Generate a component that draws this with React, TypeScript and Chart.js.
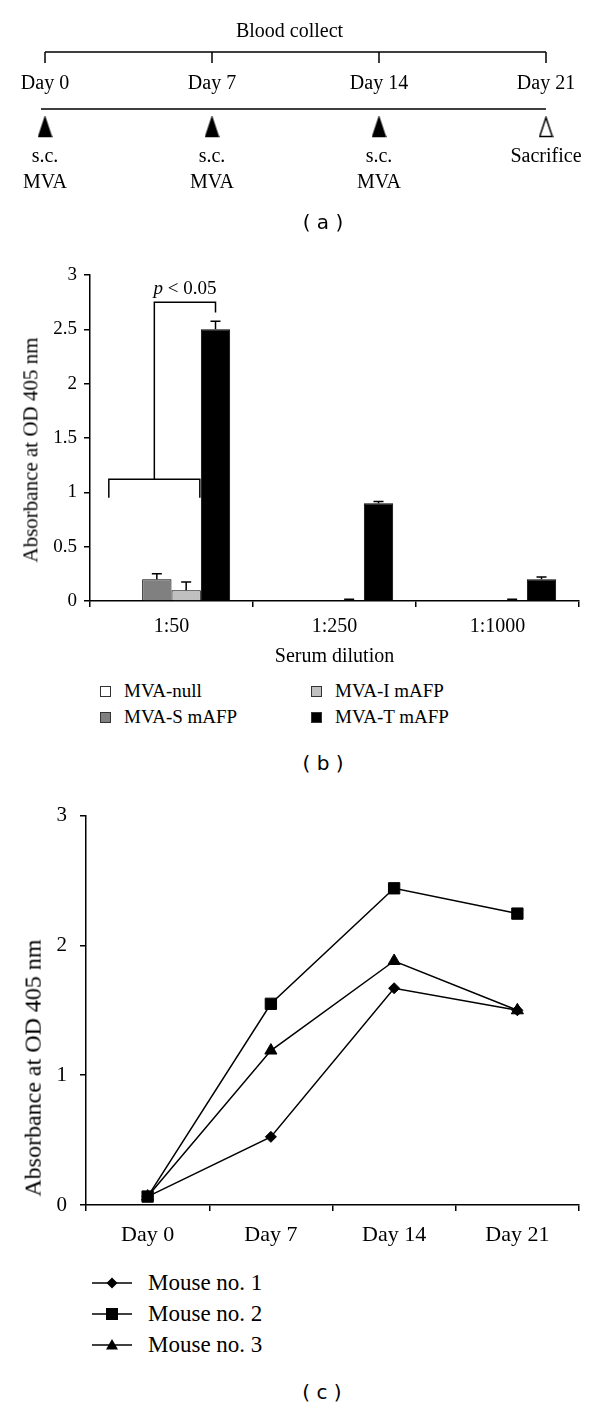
import React, { useEffect, useRef } from "react";
import { Chart, registerables } from "chart.js";

Chart.register(...registerables);

const SERIF = '"Liberation Serif", "Times New Roman", serif';
const SANS = '"DejaVu Sans", "Liberation Sans", sans-serif';

// ---------- Panel (a): schedule ----------
const timelineDays = [0, 7, 14, 21];
const timelineDayLabels = ["Day 0", "Day 7", "Day 14", "Day 21"];
const injectionDays = [0, 7, 14];
const sacrificeDays = [21];
const injectionLines = ["s.c.", "MVA"];
const sacrificeLabel = "Sacrifice";
const bloodCollectLabel = "Blood collect";

// ---------- Panel (b): ELISA by serum dilution ----------
const dilutions = ["1:50", "1:250", "1:1000"];
const groupNames = ["MVA-null", "MVA-S mAFP", "MVA-I mAFP", "MVA-T mAFP"];
const mvaNull = [0, 0, 0];
const mvaS = [0.2, 0, 0];
const mvaI = [0.1, 0.005, 0.005];
const mvaT = [2.5, 0.9, 0.2];
const mvaNullErr = [0, 0, 0];
const mvaSErr = [0.05, 0, 0];
const mvaIErr = [0.075, 0.01, 0.01];
const mvaTErr = [0.075, 0.015, 0.02];
const groupColors = ["#ffffff", "#808080", "#c0c0c0", "#000000"];
const barYTicks = [0, 0.5, 1, 1.5, 2, 2.5, 3];
const sigLow = 1.12;
const sigLowLeg = 0.95;
const sigHigh = 2.75;
const sigHighLeg = 2.655;
const sigText = 2.87;

// ---------- Panel (c): time course ----------
const days = ["Day 0", "Day 7", "Day 14", "Day 21"];
const mouse1 = [0.065, 0.525, 1.67, 1.5];
const mouse2 = [0.065, 1.55, 2.44, 2.245];
const mouse3 = [0.065, 1.19, 1.88, 1.5];
const mouseNames = ["Mouse no. 1", "Mouse no. 2", "Mouse no. 3"];
const mouseMarkers = ["rectRot", "rect", "triangle"];
const mouseRadii = [5.5, 8, 7];
const lineYTicks = [0, 1, 2, 3];

function makeTriangle(filled: boolean) {
  const c = document.createElement("canvas");
  c.width = 15;
  c.height = 22;
  const g = c.getContext("2d")!;
  g.beginPath();
  g.moveTo(7.5, 1.5);
  g.lineTo(13.8, 20.5);
  g.lineTo(1.2, 20.5);
  g.closePath();
  g.fillStyle = filled ? "#000" : "#fff";
  g.fill();
  g.lineWidth = 1.5;
  g.strokeStyle = "#000";
  g.stroke();
  return c;
}

function TimelineChart() {
  const ref = useRef<HTMLCanvasElement>(null);
  useEffect(() => {
    const annot = {
      id: "timelineAnnot",
      afterDatasetsDraw(chart: any) {
        const ctx = chart.ctx;
        const xs = chart.scales.x;
        const px = (d: number) => xs.getPixelForValue(d);
        const first = timelineDays[0];
        const last = timelineDays[timelineDays.length - 1];
        ctx.save();
        ctx.strokeStyle = "#000";
        ctx.lineWidth = 1.5;
        ctx.beginPath();
        ctx.moveTo(px(first), 52);
        ctx.lineTo(px(last), 52);
        timelineDays.forEach((d) => {
          ctx.moveTo(px(d), 52);
          ctx.lineTo(px(d), 63);
        });
        ctx.stroke();
        ctx.beginPath();
        ctx.moveTo(px(first) - 4, 109);
        ctx.lineTo(px(last), 109);
        ctx.stroke();
        ctx.fillStyle = "#000";
        ctx.font = `20px ${SERIF}`;
        ctx.textAlign = "center";
        ctx.textBaseline = "middle";
        ctx.fillText(bloodCollectLabel, (px(first) + px(last)) / 2 - 6, 32);
        timelineDays.forEach((d, i) => ctx.fillText(timelineDayLabels[i], px(d), 84));
        injectionDays.forEach((d) => {
          ctx.fillText(injectionLines[0], px(d), 157);
          ctx.fillText(injectionLines[1], px(d), 183);
        });
        sacrificeDays.forEach((d) => ctx.fillText(sacrificeLabel, px(d), 157));
        ctx.restore();
      },
    };
    const chart = new Chart(ref.current!, {
      type: "scatter",
      data: {
        datasets: [
          {
            label: "s.c. MVA",
            data: injectionDays.map((d) => ({ x: d, y: 0 })),
            pointStyle: makeTriangle(true) as any,
            clip: false as any,
          },
          {
            label: "Sacrifice",
            data: sacrificeDays.map((d) => ({ x: d, y: 0 })),
            pointStyle: makeTriangle(false) as any,
            clip: false as any,
          },
        ],
      },
      options: {
        animation: false,
        responsive: false,
        devicePixelRatio: 1,
        events: [],
        layout: { padding: { left: 45, right: 54, top: 117, bottom: 103 } },
        plugins: { legend: { display: false }, tooltip: { enabled: false } },
        scales: {
          x: { type: "linear", min: 0, max: 21, display: false },
          y: { min: -1, max: 1, display: false },
        },
      },
      plugins: [annot],
    });
    return () => chart.destroy();
  }, []);
  return (
    <canvas
      ref={ref}
      width={600}
      height={240}
      style={{ position: "absolute", left: 0, top: 0, width: 600, height: 240 }}
    />
  );
}

function BarPanel() {
  const ref = useRef<HTMLCanvasElement>(null);
  useEffect(() => {
    const values = [mvaNull, mvaS, mvaI, mvaT];
    const errs = [mvaNullErr, mvaSErr, mvaIErr, mvaTErr];
    const extras = {
      id: "barExtras",
      afterDatasetsDraw(chart: any) {
        const ctx = chart.ctx;
        const y = chart.scales.y;
        ctx.save();
        ctx.strokeStyle = "#000";
        ctx.lineWidth = 1.5;
        errs.forEach((arr, di) => {
          const meta = chart.getDatasetMeta(di);
          arr.forEach((e, j) => {
            if (!e) return;
            const bar = meta.data[j];
            const v = values[di][j];
            const y0 = y.getPixelForValue(v);
            const y1 = y.getPixelForValue(v + e);
            ctx.beginPath();
            ctx.moveTo(bar.x, y0);
            ctx.lineTo(bar.x, y1);
            ctx.moveTo(bar.x - 5, y1);
            ctx.lineTo(bar.x + 5, y1);
            ctx.stroke();
          });
        });
        // significance bracket
        const b0 = chart.getDatasetMeta(0).data[0];
        const b2 = chart.getDatasetMeta(2).data[0];
        const b3 = chart.getDatasetMeta(3).data[0];
        const xL = b0.x - b0.width / 2 - 4;
        const xR = b2.x + b2.width / 2 - 1;
        const xM = (xL + xR) / 2;
        const yLow = y.getPixelForValue(sigLow);
        const yLowLeg = y.getPixelForValue(sigLowLeg);
        const yHigh = y.getPixelForValue(sigHigh);
        const yHighLeg = y.getPixelForValue(sigHighLeg);
        ctx.beginPath();
        ctx.moveTo(xL, yLowLeg);
        ctx.lineTo(xL, yLow);
        ctx.lineTo(xR, yLow);
        ctx.lineTo(xR, yLowLeg);
        ctx.moveTo(xM, yLow);
        ctx.lineTo(xM, yHigh);
        ctx.lineTo(b3.x, yHigh);
        ctx.lineTo(b3.x, yHighLeg);
        ctx.stroke();
        const cx = (xM + b3.x) / 2;
        const ty = y.getPixelForValue(sigText);
        ctx.fillStyle = "#000";
        ctx.textBaseline = "middle";
        ctx.textAlign = "left";
        ctx.font = `italic 19px ${SERIF}`;
        const wp = ctx.measureText("p").width;
        ctx.font = `19px ${SERIF}`;
        const rest = " < 0.05";
        const wr = ctx.measureText(rest).width;
        const sx = cx - (wp + wr) / 2;
        ctx.font = `italic 19px ${SERIF}`;
        ctx.fillText("p", sx, ty);
        ctx.font = `19px ${SERIF}`;
        ctx.fillText(rest, sx + wp, ty);
        ctx.restore();
      },
    };
    const chart = new Chart(ref.current!, {
      type: "bar",
      data: {
        labels: dilutions,
        datasets: groupNames.map((n, i) => ({
          label: n,
          data: values[i],
          backgroundColor: groupColors[i],
          borderColor: "#000",
          borderWidth: 1,
          categoryPercentage: 0.72,
          barPercentage: 1,
        })),
      },
      options: {
        animation: false,
        responsive: false,
        devicePixelRatio: 1,
        events: [],
        layout: { padding: { left: 0, right: 21, top: 35, bottom: 0 } },
        plugins: { legend: { display: false }, tooltip: { enabled: false } },
        scales: {
          x: {
            grid: {
              offset: true,
              drawOnChartArea: false,
              drawTicks: true,
              tickLength: 6,
              color: "#000",
              lineWidth: 1.5,
            },
            border: { color: "#000", width: 1.5 },
            ticks: {
              color: "#000",
              font: { family: SERIF, size: 20 },
              padding: 8,
              maxRotation: 0,
            },
            title: {
              display: true,
              text: "Serum dilution",
              color: "#000",
              font: { family: SERIF, size: 20 },
              padding: { top: 0, bottom: 11 },
            },
            afterFit: (s: any) => {
              s.height = 79;
            },
          },
          y: {
            min: 0,
            max: 3,
            afterBuildTicks: (s: any) => {
              s.ticks = barYTicks.map((v) => ({ value: v }));
            },
            grid: {
              drawOnChartArea: false,
              drawTicks: true,
              tickLength: 6,
              color: "#000",
              lineWidth: 1.5,
            },
            border: { color: "#000", width: 1.5 },
            ticks: {
              color: "#000",
              font: { family: SERIF, size: 19 },
              padding: 7,
              callback: (v: any) => String(v),
            },
            afterFit: (s: any) => {
              s.width = 90;
            },
          },
        },
      },
      plugins: [extras],
    });
    return () => chart.destroy();
  }, []);
  return (
    <canvas
      ref={ref}
      width={600}
      height={440}
      style={{ position: "absolute", left: 0, top: 240, width: 600, height: 440 }}
    />
  );
}

function LinePanel() {
  const ref = useRef<HTMLCanvasElement>(null);
  useEffect(() => {
    const series = [mouse1, mouse2, mouse3];
    const chart = new Chart(ref.current!, {
      type: "line",
      data: {
        labels: days,
        datasets: series.map((d, i) => ({
          label: mouseNames[i],
          data: d,
          borderColor: "#000",
          borderWidth: 1.5,
          pointStyle: mouseMarkers[i] as any,
          pointRadius: mouseRadii[i],
          pointBackgroundColor: "#000",
          pointBorderColor: "#000",
          pointBorderWidth: 1,
          tension: 0,
          fill: false,
        })),
      },
      options: {
        animation: false,
        responsive: false,
        devicePixelRatio: 1,
        events: [],
        layout: { padding: { left: 0, right: 21, top: 20, bottom: 0 } },
        plugins: { legend: { display: false }, tooltip: { enabled: false } },
        scales: {
          x: {
            offset: true,
            grid: {
              offset: true,
              drawOnChartArea: false,
              drawTicks: true,
              tickLength: 6,
              color: "#000",
              lineWidth: 1.5,
            },
            border: { color: "#000", width: 1.5 },
            ticks: {
              color: "#000",
              font: { family: SERIF, size: 22 },
              padding: 11,
              maxRotation: 0,
            },
            afterFit: (s: any) => {
              s.height = 55;
            },
          },
          y: {
            min: 0,
            max: 3,
            afterBuildTicks: (s: any) => {
              s.ticks = lineYTicks.map((v) => ({ value: v }));
            },
            grid: {
              drawOnChartArea: false,
              drawTicks: true,
              tickLength: 6,
              color: "#000",
              lineWidth: 1.5,
            },
            border: { color: "#000", width: 1.5 },
            ticks: {
              color: "#000",
              font: { family: SERIF, size: 21 },
              padding: 13,
              callback: (v: any) => String(v),
            },
            afterFit: (s: any) => {
              s.width = 86;
            },
          },
        },
      },
    });
    return () => chart.destroy();
  }, []);
  return (
    <canvas
      ref={ref}
      width={600}
      height={470}
      style={{ position: "absolute", left: 0, top: 790, width: 600, height: 470 }}
    />
  );
}

function Txt(props: {
  x: number;
  y: number;
  size: number;
  family?: string;
  center?: boolean;
  children: React.ReactNode;
}) {
  const { x, y, size, family = SERIF, center = false, children } = props;
  return (
    <div
      style={{
        position: "absolute",
        left: x,
        top: y - size * 0.6,
        fontSize: size,
        lineHeight: `${size * 1.2}px`,
        fontFamily: family,
        whiteSpace: "nowrap",
        transform: center ? "translateX(-50%)" : undefined,
        color: "#000",
      }}
    >
      {children}
    </div>
  );
}

function VTitle(props: { x: number; y: number; size: number; text: string }) {
  return (
    <div
      style={{
        position: "absolute",
        left: props.x,
        top: props.y,
        fontSize: props.size,
        lineHeight: `${props.size * 1.2}px`,
        fontFamily: SERIF,
        whiteSpace: "nowrap",
        transform: "translate(-50%, -50%) rotate(-90deg)",
        color: "#000",
      }}
    >
      {props.text}
    </div>
  );
}

function MarkerSample({ kind }: { kind: string }) {
  let shape: React.ReactNode = null;
  if (kind === "rectRot") shape = <polygon points="20,1.5 25.5,7 20,12.5 14.5,7" fill="#000" />;
  else if (kind === "rect") shape = <rect x={14} y={1} width={12} height={12} fill="#000" />;
  else shape = <polygon points="20,1 26,11.5 14,11.5" fill="#000" />;
  return (
    <svg width={40} height={14} style={{ position: "absolute", left: 0, top: -7 }}>
      <line x1={0} y1={7} x2={40} y2={7} stroke="#000" strokeWidth={1.5} />
      {shape}
    </svg>
  );
}

const barLegendPos = [
  { x: 100, y: 691 },
  { x: 100, y: 717 },
  { x: 311, y: 691 },
  { x: 311, y: 717 },
];
const lineLegendRows = [1283, 1314, 1345];

export default function App() {
  return (
    <div
      style={{
        position: "absolute",
        left: 0,
        top: 0,
        width: 600,
        height: 1408,
        background: "#fff",
        overflow: "hidden",
      }}
    >
      <TimelineChart />
      <Txt x={323} y={222} size={20} family={SANS} center>
        ( a )
      </Txt>

      <BarPanel />
      <VTitle x={31} y={450} size={21} text="Absorbance at OD 405 nm" />
      {groupNames.map((n, i) => (
        <React.Fragment key={n}>
          <div
            style={{
              position: "absolute",
              left: barLegendPos[i].x,
              top: barLegendPos[i].y - 5,
              width: 9,
              height: 9,
              background: groupColors[i],
              border: "1px solid #333",
            }}
          />
          <Txt x={barLegendPos[i].x + 24} y={barLegendPos[i].y} size={19} family={SERIF}>
            {n}
          </Txt>
        </React.Fragment>
      ))}
      <Txt x={323} y={763} size={20} family={SANS} center>
        ( b )
      </Txt>

      <LinePanel />
      <VTitle x={33} y={1068} size={24} text="Absorbance at OD 405 nm" />
      {mouseNames.map((n, i) => (
        <React.Fragment key={n}>
          <div style={{ position: "absolute", left: 92, top: lineLegendRows[i], width: 40, height: 0 }}>
            <MarkerSample kind={mouseMarkers[i]} />
          </div>
          <Txt x={148} y={lineLegendRows[i]} size={23} family={SERIF}>
            {n}
          </Txt>
        </React.Fragment>
      ))}
      <Txt x={322} y={1392} size={20} family={SANS} center>
        ( c )
      </Txt>
    </div>
  );
}
